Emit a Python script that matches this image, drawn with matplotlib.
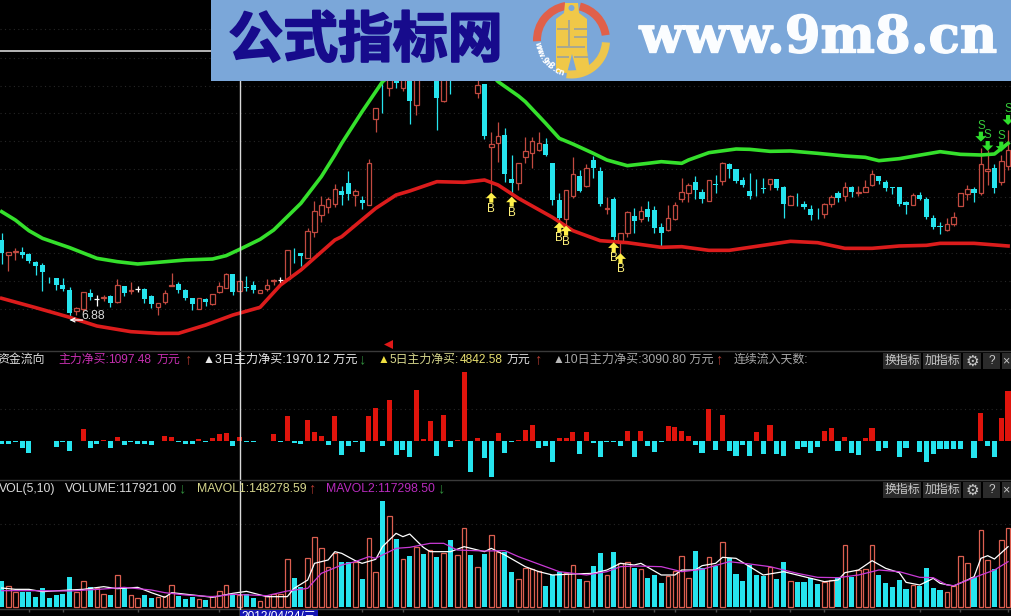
from matplotlib import pyplot as plt
from matplotlib.patches import Rectangle, Wedge, Polygon, Circle
from matplotlib import patheffects
import numpy as np

# price levels are in the chart's own pane units, nothing here is a real yuan value
candle_open = [330, 286, 294, 295, 288, 265, 255, 220, 215, 194, 180, 117, 123, 172, 152, 155, 163, 145, 191, 176,
               182, 182, 162, 128, 145, 192, 198, 180, 155, 124, 154, 139, 175, 187, 228, 178, 190, 194, 170, 182,
               208, 211, 213, 298, 290, 277, 355, 406, 428, 438, 477, 502, 465, 450, 436, 694, 870, 785, 830, 785,
               810, 734, 940, 900, 815, 748, 825, 860, 870, 920, 772, 798, 610, 622, 645, 513, 500, 580, 592, 601,
               618, 560, 450, 393, 462, 522, 492, 570, 537, 422, 453, 320, 350, 402, 393, 422, 420, 368, 360, 394,
               452, 470, 503, 473, 448, 498, 507, 558, 542, 510, 478, 508, 486, 498, 512, 488, 436, 460, 438, 422,
               403, 408, 438, 470, 463, 488, 472, 475, 495, 521, 504, 489, 488, 443, 436, 465, 452, 396, 372, 360,
               378, 433, 468, 483, 470, 538, 545, 505, 553]
candle_close = [290, 293, 298, 285, 268, 252, 233, 218, 195, 182, 110, 125, 173, 160, 152, 160, 142, 195, 170, 180,
                182, 154, 138, 140, 170, 194, 180, 156, 138, 155, 145, 167, 193, 227, 174, 208, 187, 181, 179, 194,
                210, 211, 300, 296, 282, 357, 416, 434, 452, 482, 465, 468, 477, 440, 560, 726, 830, 820, 800, 820,
                748, 830, 900, 950, 757, 830, 810, 900, 920, 870, 794, 642, 617, 642, 528, 502, 560, 597, 626, 620,
                585, 450, 395, 480, 527, 477, 545, 546, 437, 425, 340, 350, 413, 388, 416, 400, 367, 352, 395, 435,
                473, 494, 480, 453, 510, 496, 560, 542, 508, 494, 462, 506, 484, 512, 485, 438, 463, 458, 428, 405,
                401, 437, 458, 456, 488, 474, 475, 490, 527, 507, 487, 487, 438, 436, 465, 454, 398, 368, 369, 379,
                398, 470, 482, 470, 557, 543, 486, 566, 600]
candle_high = [350, 293, 305, 308, 290, 267, 260, 220, 217, 215, 188, 130, 173, 182, 165, 165, 165, 213, 193, 203,
               193, 185, 165, 142, 180, 230, 205, 182, 156, 155, 155, 168, 203, 230, 228, 210, 222, 206, 181, 212,
               212, 220, 300, 305, 290, 365, 448, 462, 460, 497, 492, 538, 483, 463, 572, 726, 900, 880, 860, 860,
               880, 870, 960, 980, 900, 890, 880, 930, 950, 960, 830, 798, 655, 685, 665, 585, 560, 638, 640, 654,
               635, 560, 470, 480, 578, 540, 557, 582, 548, 460, 460, 350, 418, 427, 432, 447, 432, 380, 435, 443,
               515, 500, 522, 483, 510, 525, 563, 560, 543, 520, 530, 512, 517, 513, 513, 493, 464, 470, 448, 435,
               425, 440, 465, 477, 505, 493, 492, 510, 540, 522, 510, 490, 490, 448, 470, 475, 460, 405, 383, 395,
               413, 470, 495, 490, 605, 600, 557, 585, 660]
candle_low = [258, 238, 270, 275, 260, 225, 178, 202, 180, 178, 90, 105, 115, 150, 133, 148, 130, 142, 162, 168,
              173, 142, 126, 105, 138, 192, 170, 150, 120, 122, 133, 135, 170, 185, 165, 170, 178, 170, 170, 178,
              195, 200, 210, 260, 252, 275, 338, 385, 410, 430, 435, 450, 432, 422, 436, 655, 710, 762, 785, 778,
              678, 705, 850, 860, 660, 745, 767, 840, 850, 830, 757, 633, 475, 565, 505, 465, 480, 562, 547, 597,
              582, 435, 385, 375, 455, 473, 490, 517, 432, 408, 328, 285, 340, 350, 385, 388, 352, 312, 358, 390,
              445, 445, 452, 442, 448, 470, 495, 515, 500, 488, 453, 462, 470, 480, 480, 395, 436, 433, 422, 390,
              393, 397, 428, 445, 447, 458, 463, 475, 493, 498, 477, 468, 432, 408, 436, 450, 394, 363, 348, 358,
              372, 432, 450, 445, 465, 495, 472, 494, 540]

upper_idx = [0, 2, 4, 6, 10, 14, 17, 20, 23, 27, 31, 33, 35, 38, 40, 42, 44, 47, 49, 50, 53, 56, 60, 65, 70, 73, 76,
             77, 80, 82, 84, 87, 89, 92, 95, 97, 100, 101, 104, 108, 110, 113, 116, 120, 124, 127, 129, 132, 136,
             138, 141, 144, 146, 148]
upper_band = [415, 390, 358, 335, 307, 275, 265, 258, 263, 270, 273, 283, 302, 332, 360, 400, 440, 520, 585, 620,
              715, 805, 870, 920, 870, 805, 762, 745, 680, 635, 618, 590, 570, 553, 560, 565, 560, 570, 592, 603,
              602, 596, 597, 590, 582, 578, 568, 574, 588, 595, 587, 585, 588, 620]
lower_idx = [0, 5, 10, 14, 19, 23, 26, 30, 34, 38, 41, 44, 49, 50, 55, 58, 60, 64, 68, 71, 73, 76, 81, 84, 88, 92,
             97, 100, 104, 107, 109, 113, 116, 120, 124, 128, 132, 136, 138, 143, 148]
lower_band = [155, 127, 98, 72, 55, 50, 50, 75, 105, 128, 195, 240, 330, 340, 425, 465, 477, 505, 503, 510, 495,
              455, 398, 358, 328, 322, 308, 310, 299, 299, 305, 317, 326, 322, 305, 305, 312, 314, 320, 320, 312]

buy_idx = [72, 75, 82, 83, 90, 91]
buy_level = [472, 460, 383, 373, 323, 290]
sell_idx = [144, 145, 147, 148]
sell_level = [625, 597, 595, 675]
low_idx = 10
low_level = 90

net_flow = [-10, -10, -2, -20, -35, 1, 1, 1, -17, -2, -29, 1, 37, -20, -8, 2, -20, 12, -12, -2,
            -8, -8, -12, 1, 15, 12, -2, -8, -8, 6, -2, 8, 21, 24, -15, 11, -4, -4, -1, 1,
            21, -2, 75, -6, -8, 63, 27, 15, -12, 75, -42, -14, -2, -32, 75, 98, -14, 123, -42, -26,
            -47, 153, 5, 60, -44, 78, -17, 2, 207, -92, 8, -50, -108, 24, -35, -3, 2, 32, 48, -20,
            -16, -62, 8, 8, 26, -39, 26, -6, -47, -3, -2, -16, 30, -47, 30, -14, -32, -3, 44, 42,
            30, 15, -11, -35, 97, -26, 78, -29, -44, -11, -44, 27, -39, 48, -38, -44, -1, -24, -17, -35,
            -17, 30, 38, -29, 12, -35, -41, 8, 38, -29, -20, -1, -47, -20, 1, -32, -62, -38, -24, -24,
            -24, -24, -1, -50, 84, -14, -47, 68, 150]

volume = [80, 64, 47, 47, 47, 32, 58, 29, 37, 40, 90, 47, 78, 62, 57, 39, 37, 96, 57, 36,
          27, 37, 29, 32, 35, 66, 34, 25, 31, 24, 22, 34, 48, 66, 38, 37, 39, 29, 20, 35,
          39, 39, 144, 87, 62, 147, 212, 177, 120, 162, 136, 137, 136, 85, 207, 105, 319, 274, 205, 144,
          154, 182, 160, 172, 151, 162, 202, 157, 237, 157, 120, 160, 216, 167, 167, 106, 85, 119, 116, 110,
          64, 97, 107, 102, 126, 86, 78, 124, 162, 96, 166, 134, 137, 119, 115, 88, 97, 74, 95, 110,
          154, 88, 169, 118, 150, 124, 195, 147, 100, 79, 127, 97, 94, 120, 85, 136, 80, 76, 76, 89,
          70, 75, 82, 90, 186, 90, 112, 114, 186, 97, 73, 61, 82, 55, 67, 64, 118, 58, 52, 45,
          64, 154, 132, 90, 231, 142, 114, 201, 237]

mavol1_idx = [0, 2, 4, 6, 10, 12, 15, 17, 20, 22, 24, 25, 29, 31, 34, 36, 39, 42, 43, 45, 46, 48, 49,
              50, 52, 53, 55, 56, 58, 59, 60, 62, 63, 66, 68, 71, 72, 74, 77, 79, 81, 84, 87, 89, 91, 93, 94, 97, 99,
              100, 102, 103, 105, 106, 108, 110, 112, 115, 118, 121, 123, 124, 126, 128, 130, 132, 133, 135, 137,
              138, 140, 142, 143, 144, 145, 146, 148]
mavol1 = [58, 54, 54, 47, 52, 54, 62, 56, 60, 44, 30, 44, 35, 30, 42, 48, 32, 32, 57, 82, 132, 142, 167,
          162, 140, 132, 144, 182, 222, 212, 220, 180, 167, 167, 182, 167, 177, 157, 122, 107, 97, 100, 102, 112,
          132, 127, 132, 97, 97,
          112, 112, 125, 132, 150, 147, 122, 97, 107, 92, 77, 82, 104, 112, 140, 117, 104, 75, 67, 87, 72, 64, 82,
          92, 147, 155, 145, 182]
mavol2_idx = [0, 5, 10, 15, 18, 22, 24, 27, 31, 34, 39, 42, 45, 47, 50, 52, 54, 55, 58, 60, 63, 65, 67, 71, 74, 76,
              80, 82, 86, 89, 91, 93, 97, 99, 100, 103, 107, 110, 113, 117, 120, 123, 126, 129, 132, 135, 137, 139,
              140, 144, 146, 148]
mavol2 = [50, 50, 49, 55, 60, 52, 44, 37, 32, 39, 35, 49, 57, 102, 127, 137, 152, 147, 177, 180, 192, 192, 172, 169,
          170, 152, 122, 107, 97, 107, 122, 124, 122, 112, 107, 114, 137, 130, 122, 102, 90, 89, 97, 112, 107, 90,
          89, 67, 65, 97, 112, 137]

date_tick_idx = [4, 9, 20, 32, 53, 59, 76, 82, 87, 96, 99, 105, 110, 116, 121, 135, 141, 148]
cursor_idx = 35

CYAN = '#26e4ee'
HOLLOW_RED = '#c24a40'
FLOW_RED = '#e0140c'
GRID = '#262626'
FONT = ['Liberation Sans', 'Noto Sans CJK SC', 'DejaVu Sans']

plt.rcParams['font.family'] = FONT

W, H = 1011, 616
fig = plt.figure(figsize=(W / 100, H / 100), dpi=100, facecolor='black')


def pane(top, bottom, ymin, ymax):
    ax = fig.add_axes([0, 1 - bottom / H, 1, (bottom - top) / H])
    ax.set_xlim(-0.25, 148.43)
    ax.set_ylim(ymin, ymax)
    ax.axis('off')
    return ax


def dotted(ax, levels):
    for level in levels:
        ax.axhline(level, color=GRID, lw=0.8, ls=(0, (1, 3)), zorder=1)


x = np.arange(len(candle_open))
o = np.array(candle_open)
c = np.array(candle_close)
hi = np.array(candle_high)
lo = np.array(candle_low)
up = c > o
down = c < o
flat = c == o

# price pane
ax_price = pane(0, 350, 0, 1050)
dotted(ax_price, [963, 876, 792, 711, 627, 543, 459, 375, 291, 207, 123])
ax_price.axhline(897, color='#e8e8e8', lw=1.1, zorder=6)
ax_price.axvline(cursor_idx, ymax=(350 - 51) / 350, color='#d8d8d8', lw=1, zorder=6)

ax_price.vlines(x[up], lo[up], hi[up], color=HOLLOW_RED, lw=0.9, zorder=2)
ax_price.bar(x[up], (c - o)[up], bottom=o[up], width=0.68, facecolor='black', edgecolor=HOLLOW_RED, lw=0.9, zorder=3)
ax_price.vlines(x[down], lo[down], hi[down], color=CYAN, lw=0.9, zorder=2)
ax_price.bar(x[down], (o - c)[down], bottom=c[down], width=0.76, color=CYAN, lw=0, zorder=3)
ax_price.vlines(x[flat], lo[flat], hi[flat], color='white', lw=0.9, zorder=2)
ax_price.hlines(o[flat], x[flat] - 0.36, x[flat] + 0.36, color='white', lw=0.9, zorder=3)

ax_price.plot(upper_idx, upper_band, color='#35e02c', lw=2.6, zorder=4)
ax_price.plot(lower_idx, lower_band, color='#dc1c1c', lw=2.6, zorder=4)

for i, level in zip(buy_idx, buy_level):
    ax_price.annotate('', xy=(i, level), xytext=(0, -10), textcoords='offset pixels',
                      arrowprops=dict(width=3, headwidth=8, headlength=4, color='#fff04a', lw=0, shrink=0), zorder=5)
    ax_price.annotate('B', xy=(i, level), xytext=(0, -16), textcoords='offset pixels', ha='center', va='center',
                      color='#fff27a', fontsize=8.4, zorder=5)
for i, level in zip(sell_idx, sell_level):
    ax_price.annotate('', xy=(i, level), xytext=(0, 10), textcoords='offset pixels',
                      arrowprops=dict(width=3, headwidth=8, headlength=4, color='#2fe02c', lw=0, shrink=0), zorder=5)
    ax_price.annotate('S', xy=(i, level), xytext=(0, 16), textcoords='offset pixels', ha='center', va='center',
                      color='#35c93a', fontsize=8.4, zorder=5)

ax_price.annotate('', xy=(low_idx, low_level), xytext=(13, 0), textcoords='offset pixels',
                  arrowprops=dict(arrowstyle='->', color='white', lw=0.9, shrinkA=0, shrinkB=0, mutation_scale=7), zorder=5)
ax_price.annotate('6.88', xy=(low_idx, low_level), xytext=(12, 4), textcoords='offset pixels', va='center',
                  color='#d8d8d8', fontsize=8.8, zorder=5)

# money flow pane
ax_flow = pane(350, 480, -117, 273)
dotted(ax_flow, [95])
flow = np.array(net_flow)
ax_flow.bar(x, flow, width=0.76, color=np.where(flow > 0, FLOW_RED, CYAN), lw=0, zorder=3)
ax_flow.axvline(cursor_idx, color='#d8d8d8', lw=1, zorder=6)

# volume pane
ax_vol = pane(480, 616, -26, 382)
dotted(ax_vol, [250])
vol = np.array(volume)
vol_up = c >= o
ax_vol.bar(x[vol_up], vol[vol_up], width=0.68, facecolor='black', edgecolor='#dc5f50', lw=0.9, zorder=3)
ax_vol.bar(x[~vol_up], vol[~vol_up], width=0.76, color=CYAN, lw=0, zorder=3)
ax_vol.plot(mavol1_idx, mavol1, color='white', lw=0.9, zorder=4)
ax_vol.plot(mavol2_idx, mavol2, color='#c93ad6', lw=0.9, zorder=4)
ax_vol.axhline(-6, color='#3c3c3c', lw=1, zorder=2)
ax_vol.vlines(date_tick_idx, -15, -6, color='#4a4a4a', lw=1, zorder=2)
ax_vol.axvline(cursor_idx, color='#d8d8d8', lw=1, zorder=6)

# overlay in screen pixels: headers, buttons, banner
ov = fig.add_axes([0, 0, 1, 1], zorder=10)
ov.set_xlim(0, W)
ov.set_ylim(H, 0)
ov.axis('off')

ov.plot([0, W], [351, 351], color='#3a3a3a', lw=1)
ov.plot([0, W], [480, 480], color='#3a3a3a', lw=1)


def label(px, py, s, color, size=8.6):
    ov.text(px, py, s, color=color, fontsize=size, va='center', ha='left', clip_on=True)


label(-3, 360, '资金流向', '#dcdcdc')
label(58, 360, '主力净买:', '#c62fb0')
label(108, 360, '1097.48', '#c62fb0')
label(157, 360, '万元', '#c62fb0')
label(184, 359, '↑', '#b53a30', 10.5)
label(203, 360, '▲3日主力净买:1970.12 万元', '#e8e8e8', 8.7)
label(358, 359, '↓', '#2f8a3a', 10.5)
label(378, 360, '▲', '#f0e040')
label(389, 360, '5日主力净买:', '#d6d68c')
label(460, 360, '4842.58', '#e8e070')
label(507, 360, '万元', '#e0e0e0')
label(534, 359, '↑', '#b53a30', 10.5)
label(553, 360, '▲', '#b8b8b8')
label(564, 360, '10日主力净买:3090.80 万元', '#a8a8a8', 8.7)
label(715, 359, '↑', '#b53a30', 10.5)
label(734, 360, '连续流入天数:', '#a8a8a8')

label(-1, 489, 'VOL(5,10)', '#dcdcdc', 8.8)
label(65, 489, 'VOLUME:117921.00', '#dcdcdc', 8.8)
label(178, 488, '↓', '#2f8a3a', 10.5)
label(197, 489, 'MAVOL1:148278.59', '#d6d68c', 8.8)
label(308, 488, '↑', '#b53a30', 10.5)
label(326, 489, 'MAVOL2:117298.50', '#b82bbd', 8.8)
label(437, 488, '↓', '#2f8a3a', 10.5)

for py in [353, 482]:
    for left, right in [(883, 921), (923, 961), (963, 981), (983, 1000), (1002, 1012)]:
        ov.add_patch(Rectangle((left, py), right - left, 16, facecolor='#2b2b2b', edgecolor='none'))
    ov.text(902, py + 8, '换指标', color='#c8c8c8', fontsize=8.6, ha='center', va='center')
    ov.text(942, py + 8, '加指标', color='#c8c8c8', fontsize=8.6, ha='center', va='center')
    ov.text(972.5, py + 8, '⚙', color='#c8c8c8', fontsize=11, ha='center', va='center', family='DejaVu Sans')
    ov.text(991.5, py + 8, '?', color='#c8c8c8', fontsize=8.6, ha='center', va='center')
    ov.text(1006, py + 8, '×', color='#c8c8c8', fontsize=9, ha='center', va='center')

ov.scatter([388], [344], marker='<', s=42, color='#e01818', lw=0)

ov.add_patch(Rectangle((240, 610), 78, 6, facecolor='#1414b4', edgecolor='none'))
ov.text(279, 617, '2012/04/24/三', color='white', fontsize=8.6, ha='center', va='center')

ov.add_patch(Rectangle((211, 0), 800, 80.5, facecolor='#7ba7d9', edgecolor='none', zorder=20))
title = ov.text(365.5, 40.5, '公式指标网', color='#170b8c', fontsize=39.5, fontweight='bold', ha='center', va='center',
                family=['Noto Sans CJK SC'], zorder=21)
title.set_path_effects([patheffects.withStroke(linewidth=1.4, foreground='#170b8c')])
url = ov.text(818, 39, 'www.9m8.cn', color='#fbfdff', fontsize=37, fontweight='bold', ha='center', va='center',
              family=['DejaVu Serif'], zorder=21)
url.set_path_effects([patheffects.withStroke(linewidth=1.0, foreground='#fbfdff')])

# logo
ring_c = (571.5, 40)
for t1, t2, col in [(178, 260, '#e0604a'), (284, 352, '#e0604a'), (4, 98, '#eec64c')]:
    ov.add_patch(Wedge(ring_c, 38.5, t1, t2, width=8, facecolor=col, edgecolor='none', zorder=21))
figure_outline = [(565, 3), (578, 3), (579, 13), (587, 19), (587, 50), (590, 72), (577, 73), (572, 54), (567, 73),
                  (556, 72), (556, 50), (556, 19), (564, 13)]
ov.add_patch(Polygon(figure_outline, closed=True, facecolor='#f0c848', edgecolor='none', zorder=21))
ov.add_patch(Circle((571.5, 8), 3, facecolor='#7ba7d9', edgecolor='none', zorder=22))
for sx, sy, sw, sh in [(557, 28, 12, 2), (574, 28, 13, 2), (568, 20, 2, 26), (574, 36, 13, 2), (557, 46, 28, 2),
                       (557, 56, 12, 2), (574, 56, 14, 2)]:
    ov.add_patch(Rectangle((sx, sy), sw, sh, facecolor='#a8a890', edgecolor='none', zorder=22))
for ch, theta in zip('www.9m8.cn', np.linspace(172, 108, 10)):
    t = np.radians(theta)
    ov.text(ring_c[0] + 34 * np.cos(t), ring_c[1] + 34 * np.sin(t), ch, color='white', fontsize=5.6, fontweight='bold',
            ha='center', va='center', rotation=90 - theta, rotation_mode='anchor', family=['DejaVu Sans'], zorder=23)

fig.savefig('out.png', dpi=100, facecolor='black')
